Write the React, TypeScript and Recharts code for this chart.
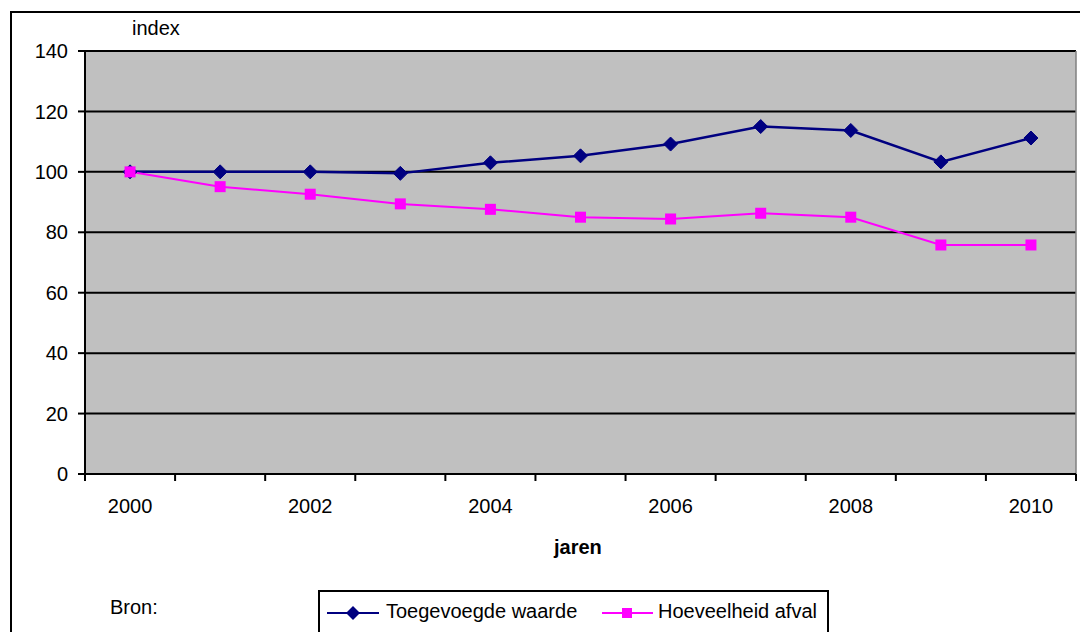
import { LineChart, Line, XAxis, YAxis, CartesianGrid, ReferenceLine, Legend } from 'recharts';

const years = [2000, 2001, 2002, 2003, 2004, 2005, 2006, 2007, 2008, 2009, 2010];
const toegevoegdeWaarde = [100, 100, 100, 99.5, 103, 105.3, 109.2, 115, 113.7, 103.3, 111.2];
const hoeveelheidAfval = [100, 95.1, 92.6, 89.4, 87.6, 85, 84.4, 86.3, 85, 75.8, 75.8];
const yTicks = [0, 20, 40, 60, 80, 100, 120, 140];
const xLabelTicks = [2000, 2002, 2004, 2006, 2008, 2010];
const xEdgeTicks = [1999.5, 2000.5, 2001.5, 2002.5, 2003.5, 2004.5, 2005.5, 2006.5, 2007.5, 2008.5, 2009.5, 2010.5];

const seriesNames = ['Toegevoegde waarde', 'Hoeveelheid afval'];
const seriesColors = ['#000080', '#ff00ff'];

const data = years.map((year, i) => ({
    year,
    waarde: toegevoegdeWaarde[i],
    afval: hoeveelheidAfval[i],
}));

const font = '"Liberation Sans", Arial, sans-serif';

const Diamond = (props: any) => {
    const { cx, cy } = props;
    if (cx == null || cy == null) return null;
    const r = 7;
    return <polygon points={`${cx},${cy - r} ${cx + r},${cy} ${cx},${cy + r} ${cx - r},${cy}`} fill="#000080" stroke="#000080" />;
};

const Square = (props: any) => {
    const { cx, cy } = props;
    if (cx == null || cy == null) return null;
    const s = 11;
    return <rect x={cx - s / 2} y={cy - s / 2} width={s} height={s} fill="#ff00ff" />;
};

// tick mark only, no label (Excel puts ticks between categories)
const EdgeTick = (props: any) => {
    const { x, y } = props;
    return <line x1={x} y1={y} x2={x} y2={y + 7} stroke="#000" strokeWidth={2} />;
};

const LegendBox = () => (
    <div style={{
        position: 'absolute', left: 318, top: 590, width: 511, height: 60,
        border: '2px solid black', background: 'white', boxSizing: 'border-box',
        fontFamily: font, fontSize: 20, color: 'black',
    }}>
        <svg width={60} height={20} style={{ position: 'absolute', left: 5, top: 11 }}>
            <line x1={2} y1={10} x2={54} y2={10} stroke={seriesColors[0]} strokeWidth={2} />
            <polygon points="28,3 35,10 28,17 21,10" fill={seriesColors[0]} />
        </svg>
        <div style={{ position: 'absolute', left: 66, top: 8 }}>{seriesNames[0]}</div>
        <svg width={60} height={20} style={{ position: 'absolute', left: 280, top: 11 }}>
            <line x1={2} y1={10} x2={53} y2={10} stroke={seriesColors[1]} strokeWidth={2} />
            <rect x={22} y={5} width={10} height={10} fill={seriesColors[1]} />
        </svg>
        <div style={{ position: 'absolute', left: 338, top: 8 }}>{seriesNames[1]}</div>
    </div>
);

export default function App() {
    return (
        <div style={{ position: 'absolute', left: 0, top: 0, width: 1080, height: 632, overflow: 'hidden', background: 'white', fontFamily: font }}>
            <div style={{ position: 'absolute', left: 10, top: 11, width: 1200, height: 800, border: '2px solid black', boxSizing: 'border-box' }} />
            <div style={{ position: 'absolute', left: 132, top: 17, fontSize: 20 }}>index</div>
            <div style={{ position: 'absolute', left: 554, top: 536, fontSize: 20, fontWeight: 'bold' }}>jaren</div>
            <div style={{ position: 'absolute', left: 110, top: 596, fontSize: 20 }}>Bron:</div>
            <div style={{ position: 'absolute', left: 0, top: 0 }}>
                <LineChart width={1080} height={632} data={data} margin={{ top: 51, right: 4, left: 0, bottom: 128 }}>
                    <CartesianGrid fill="#c0c0c0" stroke="#000000" strokeWidth={2} vertical={false} />
                    <XAxis
                        xAxisId="edges"
                        dataKey="year"
                        type="number"
                        domain={[1999.5, 2010.5]}
                        ticks={xEdgeTicks}
                        interval={0}
                        tick={<EdgeTick />}
                        tickLine={false}
                        tickSize={0}
                        tickMargin={0}
                        height={1}
                        axisLine={{ stroke: '#000', strokeWidth: 2 }}
                    />
                    <XAxis
                        xAxisId="main"
                        dataKey="year"
                        type="number"
                        domain={[1999.5, 2010.5]}
                        ticks={xLabelTicks}
                        interval={0}
                        axisLine={false}
                        tickLine={false}
                        tickSize={0}
                        tickMargin={24}
                        height={29}
                        tick={{ fill: '#000', fontSize: 20, fontFamily: font }}
                    />
                    <YAxis
                        domain={[0, 140]}
                        ticks={yTicks}
                        width={85}
                        tickSize={7}
                        tickMargin={10}
                        interval={0}
                        axisLine={{ stroke: '#000', strokeWidth: 2 }}
                        tickLine={{ stroke: '#000', strokeWidth: 2 }}
                        tick={{ fill: '#000', fontSize: 20, fontFamily: font }}
                    />
                    <ReferenceLine xAxisId="main" y={140} stroke="#000" strokeWidth={2} ifOverflow="visible" />
                    <ReferenceLine xAxisId="main" x={2010.5} stroke="#808080" strokeWidth={1.5} ifOverflow="visible" />
                    <Line
                        xAxisId="main"
                        dataKey="waarde"
                        name={seriesNames[0]}
                        stroke={seriesColors[0]}
                        strokeWidth={2.5}
                        dot={<Diamond />}
                        isAnimationActive={false}
                    />
                    <Line
                        xAxisId="main"
                        dataKey="afval"
                        name={seriesNames[1]}
                        stroke={seriesColors[1]}
                        strokeWidth={2}
                        dot={<Square />}
                        isAnimationActive={false}
                    />
                    <Legend content={() => null} />
                </LineChart>
            </div>
            <LegendBox />
        </div>
    );
}
